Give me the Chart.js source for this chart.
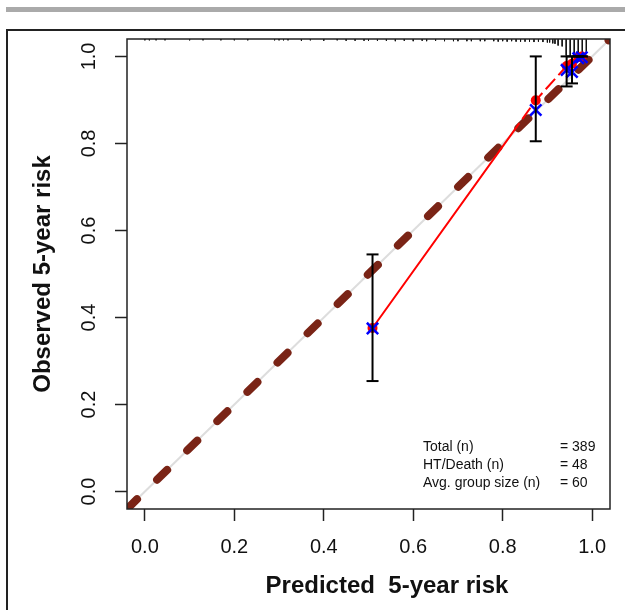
<!DOCTYPE html>
<html>
<head>
<meta charset="utf-8">
<script src="https://cdn.jsdelivr.net/npm/chart.js@4.4.1/dist/chart.umd.min.js"></script>
<style>
  body { margin: 0; background: #fff; }
  #wrap { position: relative; width: 625px; height: 610px; overflow: hidden; }
  .bar { position: absolute; left: 6px; top: 7px; width: 619px; height: 5px; background: #aaaaaa; }
  .frameTop { position: absolute; left: 6px; top: 29px; width: 619px; height: 2px; background: #222; }
  .frameLeft { position: absolute; left: 6px; top: 29px; width: 2px; height: 581px; background: #222; }
  canvas { position: absolute; left: 0; top: 0; }
</style>
</head>
<body>
<div id="wrap">
  <div class="bar"></div>
  <div class="frameTop"></div>
  <div class="frameLeft"></div>
  <canvas id="calPlot" width="625" height="610"></canvas>
</div>
<script>
// axis ticks
const xTicks = [0, 0.2, 0.4, 0.6, 0.8, 1.0];
const yTicks = [0, 0.2, 0.4, 0.6, 0.8, 1.0];

// calibration groups
const predicted = [0.509, 0.874, 0.943, 0.955, 0.969, 0.977];
const observed = [0.376, 0.899, 0.978, 0.983, 0.998, 1.0];
const corrected = [0.375, 0.877, 0.969, 0.964, 0.996, 0.998];
const ciLower = [0.254, 0.805, 0.931, 0.938, 1.0, 1.0];
const ciUpper = [0.545, 1.0, 1.0, 1.0, 1.0, 1.0];

// spike histogram of predicted risk along the top
const rugPred = [0.00, 0.01, 0.025, 0.045, 0.10, 0.13, 0.17, 0.20, 0.23, 0.29, 0.30, 0.31, 0.32, 0.35, 0.37,
  0.40, 0.43, 0.45, 0.47, 0.49, 0.50, 0.52, 0.54, 0.56, 0.58, 0.60, 0.62, 0.63, 0.65, 0.67, 0.69, 0.70,
  0.72, 0.73, 0.75, 0.76, 0.78, 0.79, 0.80, 0.81, 0.82, 0.83, 0.84, 0.85, 0.86, 0.87, 0.88, 0.89, 0.90,
  0.905, 0.912, 0.917, 0.924, 0.933, 0.942, 0.951, 0.960, 0.969, 0.978, 0.987];
const rugFreq = [3, 3, 3, 3, 3, 3, 3, 3, 3, 3, 3, 3, 3, 4, 3,
  4, 3, 4, 4, 4, 4, 4, 4, 5, 4, 5, 4, 5, 4, 5, 5, 5,
  5, 5, 5, 5, 5, 6, 5, 6, 5, 6, 6, 6, 6, 7, 6, 7, 8,
  8, 10, 11, 15, 17, 38, 40, 38, 40, 36, 34];

// legend lines
const statLabels = ["Total (n)", "HT/Death (n)", "Avg. group size (n)"];
const statValues = ["= 389", "= 48", "= 60"];

const diag = [-0.04, 1.04];
const rugMax = Math.max(...rugFreq);
const rugData = [];
rugPred.forEach((p, i) => {
  rugData.push({ x: p, y: 1.04 }, { x: p, y: 1.04 - 0.04 * rugFreq[i] / rugMax }, { x: p, y: null });
});

const FONT = "'Liberation Sans', Arial, Helvetica, sans-serif";

// box round the plot, axis titles and the small stats block
const extras = {
  id: "extras",
  afterDatasetsDraw(chart) {
    const { ctx, chartArea: a } = chart;
    ctx.save();
    ctx.strokeStyle = "#222";
    ctx.lineWidth = 1.5;
    ctx.strokeRect(a.left, a.top, a.right - a.left, a.bottom - a.top);

    ctx.fillStyle = "#111";
    ctx.font = "bold 24px " + FONT;
    ctx.textAlign = "center";
    ctx.textBaseline = "alphabetic";
    ctx.fillText("Predicted  5-year risk", 387, 593);

    ctx.translate(50, (a.top + a.bottom) / 2);
    ctx.rotate(-Math.PI / 2);
    ctx.fillText("Observed 5-year risk", 0, 0);
    ctx.restore();

    ctx.save();
    ctx.fillStyle = "#111";
    ctx.font = "14px " + FONT;
    ctx.textAlign = "left";
    statLabels.forEach((t, i) => {
      ctx.fillText(t, 423, 451 + i * 18);
      ctx.fillText(statValues[i], 560, 451 + i * 18);
    });
    ctx.restore();
  }
};

const axisBase = {
  type: "linear",
  min: -0.04,
  max: 1.04,
  grid: { drawOnChartArea: false, drawTicks: true, tickLength: 12, tickColor: "#222", tickWidth: 1.5 },
  border: { display: false },
};

new Chart(document.getElementById("calPlot"), {
  type: "scatter",
  data: {
    datasets: [
      // error bar caps
      {
        data: predicted.flatMap((p, i) => [{ x: p, y: ciLower[i] }, { x: p, y: ciUpper[i] }]),
        pointStyle: "line", pointRadius: 6, borderColor: "#000", pointBorderWidth: 2, order: 1,
      },
      // error bars
      ...predicted.map((p, i) => ({
        data: [{ x: p, y: ciLower[i] }, { x: p, y: ciUpper[i] }],
        showLine: true, borderColor: "#000", borderWidth: 2, pointRadius: 0, order: 2,
      })),
      // bias-corrected (blue x)
      {
        data: predicted.map((p, i) => ({ x: p, y: corrected[i] })),
        pointStyle: "crossRot", pointRadius: 8, borderColor: "#0000ff", pointBorderWidth: 2.5, order: 3,
      },
      // observed (red dots)
      {
        data: predicted.map((p, i) => ({ x: p, y: observed[i] })),
        pointStyle: "circle", pointRadius: 5, backgroundColor: "#ff0000", borderColor: "#ff0000",
        pointBorderWidth: 0, order: 4,
      },
      // line joining observed
      {
        data: predicted.map((p, i) => ({ x: p, y: observed[i] })),
        showLine: true, borderColor: "#ff0000", borderWidth: 2, pointRadius: 0,
        borderDash: [252, 5, 14, 5, 14, 5, 14, 5, 14, 5, 14, 5, 14, 5, 14, 5, 14, 5, 14, 5],
        order: 5,
      },
      // spike histogram
      {
        data: rugData,
        showLine: true, spanGaps: false, borderColor: "#111", borderWidth: 1, pointRadius: 0, order: 6,
      },
      // ideal line, thick dashed
      {
        data: diag.map(v => ({ x: v, y: v })),
        showLine: true, borderColor: "#7a2416", borderWidth: 8, borderCapStyle: "round",
        borderDash: [14, 28], pointRadius: 0, order: 7,
      },
      // ideal line, thin grey
      {
        data: diag.map(v => ({ x: v, y: v })),
        showLine: true, borderColor: "#dddddd", borderWidth: 2, pointRadius: 0, order: 8,
      },
    ],
  },
  options: {
    responsive: false,
    devicePixelRatio: 1,
    animation: false,
    layout: { padding: { left: 0, top: 39, right: 15, bottom: 0 } },
    plugins: { legend: { display: false }, tooltip: { enabled: false } },
    scales: {
      x: {
        ...axisBase,
        afterBuildTicks: s => { s.ticks = xTicks.map(v => ({ value: v })); },
        afterFit: s => { s.height = 101; },
        ticks: { autoSkip: false, padding: 14, color: "#111", font: { size: 20, family: FONT },
          callback: v => v.toFixed(1) },
      },
      y: {
        ...axisBase,
        afterBuildTicks: s => { s.ticks = yTicks.map(v => ({ value: v })); },
        afterFit: s => { s.width = 127; },
        ticks: { autoSkip: false, padding: 12, minRotation: 90, maxRotation: 90, crossAlign: "center",
          color: "#111", font: { size: 20, family: FONT }, callback: v => v.toFixed(1) },
      },
    },
  },
  plugins: [extras],
});
</script>
</body>
</html>
